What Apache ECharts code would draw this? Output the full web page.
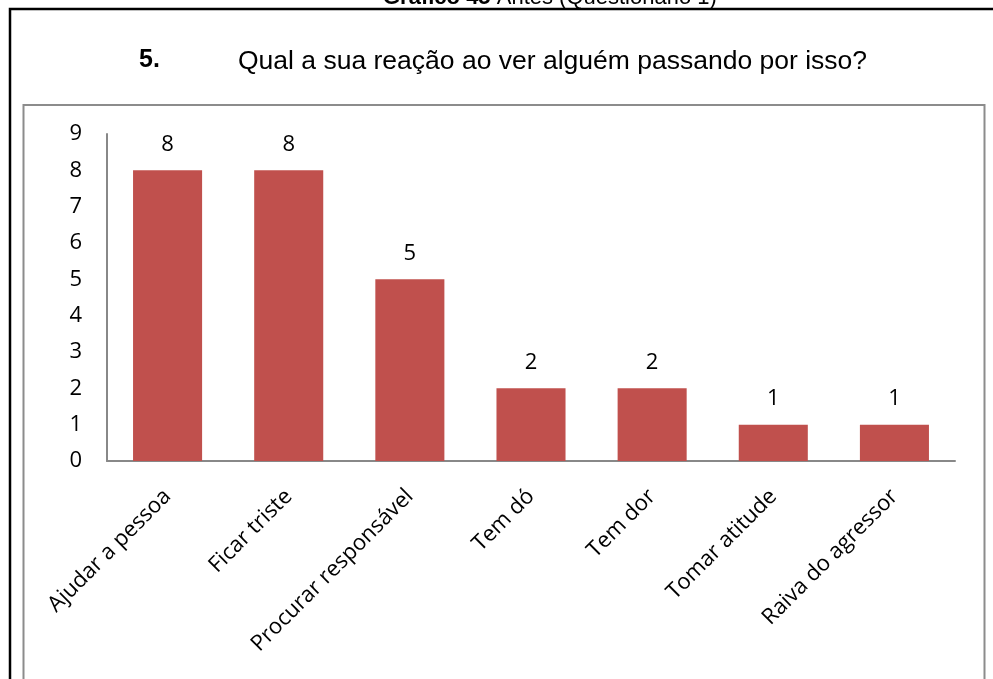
<!DOCTYPE html>
<html>
<head>
<meta charset="utf-8">
<script src="https://cdn.jsdelivr.net/npm/echarts@6/dist/echarts.min.js"></script>
<style>
  html, body { margin: 0; padding: 0; background: #fff; }
  #chart { width: 993px; height: 679px; }
</style>
</head>
<body>
<div id="chart"></div>
<script>
const categories = [
  "Ajudar a pessoa",
  "Ficar triste",
  "Procurar responsável",
  "Tem dó",
  "Tem dor",
  "Tomar atitude",
  "Raiva do agressor"
];
const values = [8, 8, 5, 2, 2, 1, 1];
const yTicks = [0, 1, 2, 3, 4, 5, 6, 7, 8, 9];

const labelFont = "'Open Sans', 'Noto Sans', sans-serif";
const arialFont = "'Liberation Sans', Arial, sans-serif";
const chart = echarts.init(document.getElementById('chart'));

const option = {
  animation: false,
  backgroundColor: '#fff',
  graphic: [
    {
      // outer frame of the document box
      type: 'rect',
      shape: { x: 10, y: 9, width: 1000, height: 700 },
      style: { fill: 'none', stroke: '#000', lineWidth: 2.5 }
    },
    {
      // chart area border
      type: 'rect',
      shape: { x: 23.5, y: 105, width: 961, height: 620 },
      style: { fill: 'none', stroke: '#8c8c8c', lineWidth: 2 }
    },
    {
      // caption above the frame, mostly cut off
      type: 'text',
      x: 383,
      y: -13,
      style: {
        text: '{b|Gráfico 45} Antes (Questionário 1)',
        font: "22px " + arialFont,
        fill: '#000',
        rich: {
          b: { fontWeight: 'bold', fontSize: 22, fontFamily: arialFont }
        }
      }
    },
    {
      type: 'text',
      x: 139,
      y: 48,
      style: {
        text: '5.',
        font: "bold 25px " + arialFont,
        fill: '#000'
      }
    },
    {
      type: 'text',
      x: 238,
      y: 48,
      style: {
        text: 'Qual a sua reação ao ver alguém passando por isso?',
        font: "26.5px " + arialFont,
        fill: '#000'
      }
    }
  ],
  grid: {
    left: 107,
    right: 38,
    top: 134,
    bottom: 218
  },
  xAxis: {
    type: 'category',
    data: categories,
    axisLine: { lineStyle: { color: '#888', width: 2 } },
    axisTick: { show: false },
    axisLabel: {
      rotate: 45,
      margin: 32,
      interval: 0,
      color: '#000',
      fontSize: 22,
      fontFamily: labelFont
    }
  },
  yAxis: {
    type: 'value',
    min: yTicks[0],
    max: yTicks[yTicks.length - 1],
    interval: 1,
    axisLine: { show: true, lineStyle: { color: '#888', width: 2 } },
    axisTick: { show: false },
    splitLine: { show: false },
    axisLabel: {
      margin: 25,
      color: '#000',
      fontSize: 22,
      fontFamily: labelFont
    }
  },
  series: [
    {
      type: 'bar',
      data: values,
      barWidth: '57%',
      itemStyle: { color: '#C0504D' },
      label: {
        show: true,
        position: 'top',
        distance: 15,
        color: '#000',
        fontSize: 22,
        fontFamily: labelFont
      }
    }
  ]
};

chart.setOption(option);
</script>
</body>
</html>
